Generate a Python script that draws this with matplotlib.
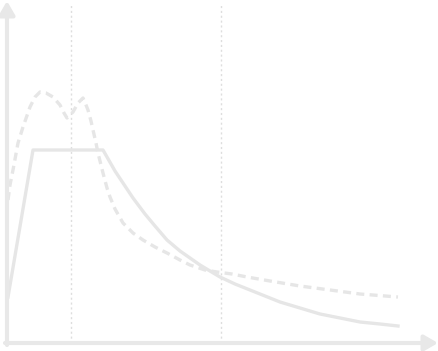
import matplotlib
matplotlib.use("Agg")
import matplotlib.pyplot as plt

# Solid curve (x, y) in chart units
solid_x = [1, 26, 96, 108, 118, 126, 138, 148, 160, 173, 183, 193, 203, 213,
           228, 243, 258, 273, 293, 313, 333, 353, 373, 391]
solid_y = [46, 193, 193, 172, 157, 145, 129, 117, 103, 92, 85, 78, 72, 66,
           59, 53, 47, 41, 35, 29, 25, 21, 19, 17]

# Dashed curve
dash_x = [1, 3, 6, 11, 16, 23, 28, 33, 39, 46, 53, 57, 60, 63, 66, 71, 76, 79,
          81, 84, 86, 89, 91, 94, 96, 100, 103, 108, 116, 126, 136, 148, 160,
          173, 183, 198, 210, 225, 240, 263, 293, 323, 353, 391]
dash_y = [143, 158, 173, 200, 216, 236, 246, 251, 250, 246, 238, 230, 225, 228,
          231, 240, 245, 238, 233, 222, 213, 200, 190, 178, 170, 155, 146, 134,
          120, 110, 103, 96, 90, 83, 78, 73, 71, 69, 66, 62, 57, 53, 49, 46]

# Vertical reference lines
vlines_x = [64, 214]

GRID = "#dedede"
LINE = "#e6e6e6"
AXIS = "#e8e8e8"

fig = plt.figure(figsize=(4.39, 3.51), dpi=100)
ax = fig.add_axes([0, 0, 1, 1])
ax.set_xlim(-7, 432)
ax.set_ylim(-8, 343)
ax.axis("off")

for vx in vlines_x:
    ax.plot([vx, vx], [0, 339], color=GRID, lw=1.0, ls=(0, (1.5, 2.0)), zorder=1)

ax.plot(solid_x, solid_y, color=LINE, lw=2.4, solid_joinstyle="round", zorder=3)
ax.plot(dash_x, dash_y, color=LINE, lw=2.4, ls=(0, (2.4, 1.6)), zorder=3)

arrow = dict(arrowstyle="-|>,head_length=0.45,head_width=0.26", lw=3.0,
             color=AXIS, mutation_scale=18, shrinkA=0, shrinkB=0)
ax.annotate("", xy=(0, 342), xytext=(0, -2), arrowprops=arrow, zorder=4)
ax.annotate("", xy=(431, 0), xytext=(-2, 0), arrowprops=arrow, zorder=4)

fig.savefig("out.png", dpi=100)
